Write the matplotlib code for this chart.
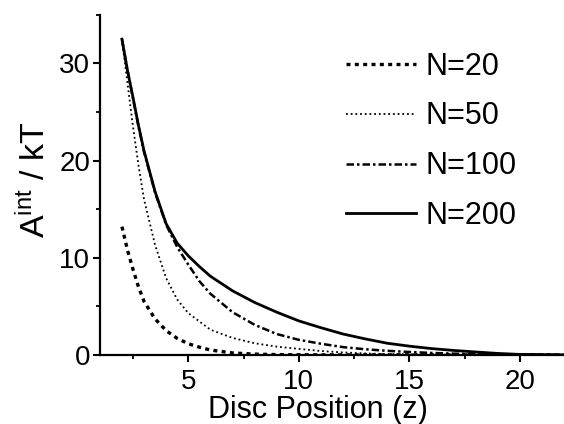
import matplotlib
matplotlib.use("Agg")
import matplotlib.pyplot as plt
from matplotlib.ticker import MultipleLocator

plt.rcParams['font.family'] = ['Liberation Sans', 'DejaVu Sans']
plt.rcParams['mathtext.default'] = 'regular'

labels = ["N=20", "N=50", "N=100", "N=200"]

x20 = [2, 2.25, 2.5, 2.75, 3, 3.5, 4, 4.5, 5, 5.5, 6, 7, 8, 9, 10, 12, 14, 17, 22]
y20 = [13.2, 10.8, 8.8, 7.0, 5.5, 3.7, 2.5, 1.7, 1.15, 0.8, 0.5, 0.2, 0.08, 0.03, 0.01, 0, 0, 0, 0]

x50 = [2, 2.25, 2.5, 2.75, 3, 3.5, 4, 4.5, 5, 6, 7, 8, 9, 10, 11, 12, 13, 14, 16, 18, 22]
y50 = [32.5, 28.0, 23.5, 19.5, 16.0, 11.3, 7.9, 5.7, 4.3, 2.6, 1.75, 1.2, 0.85, 0.62, 0.4, 0.25,
       0.15, 0.08, 0.03, 0.01, 0]

x100 = [2, 2.25, 2.5, 2.75, 3, 3.5, 4, 4.5, 5, 5.5, 6, 7, 8, 9, 10, 11, 12, 13, 14, 15, 16, 17, 18,
        20, 22]
y100 = [32.5, 29.3, 26.4, 23.5, 20.9, 16.7, 13.4, 11.1, 9.3, 7.6, 6.3, 4.4, 3.1, 2.15, 1.55, 1.15,
        0.8, 0.58, 0.42, 0.3, 0.2, 0.13, 0.08, 0.02, 0]

x200 = [2, 2.25, 2.5, 2.75, 3, 3.5, 4, 4.5, 5, 5.5, 6, 7, 8, 9, 10, 11, 12, 13, 14, 15, 16, 17, 18,
        19, 20, 22]
y200 = [32.5, 29.3, 26.5, 23.6, 21.0, 16.8, 13.5, 11.5, 10.2, 9.1, 8.1, 6.6, 5.4, 4.4, 3.5, 2.8,
        2.15, 1.65, 1.2, 0.9, 0.65, 0.46, 0.3, 0.15, 0.05, 0]

fig = plt.figure(figsize=(5.64, 4.24), dpi=100)
ax = fig.add_axes([0.177, 0.163, 0.823, 0.802])

ax.plot(x20, y20, color='black', lw=2.4, linestyle=(0, (1.2, 1.3)), label=labels[0])
ax.plot(x50, y50, color='black', lw=1.3, linestyle=(0, (1, 1.6)), label=labels[1])
ax.plot(x100, y100, color='black', lw=1.8, linestyle=(0, (3, 1.2, 1, 1.2)), label=labels[2])
ax.plot(x200, y200, color='black', lw=2.0, linestyle='-', label=labels[3])

ax.set_xlim(1, 22)
ax.set_ylim(0, 35)
ax.xaxis.set_major_locator(MultipleLocator(5))
ax.xaxis.set_minor_locator(MultipleLocator(2.5))
ax.yaxis.set_major_locator(MultipleLocator(10))
ax.yaxis.set_minor_locator(MultipleLocator(5))
ax.set_yticks([0, 10, 20, 30])

for s in ['top', 'right']:
    ax.spines[s].set_visible(False)
for s in ['left', 'bottom']:
    ax.spines[s].set_linewidth(1.6)

ax.tick_params(which='major', direction='out', length=5, width=1.5, labelsize=20, pad=2)
ax.tick_params(axis='x', which='major', pad=5)
ax.tick_params(which='minor', direction='out', length=3, width=1.3)

ax.set_xlabel('Disc Position (z)', fontsize=22)
ax.set_ylabel(r'A$^{int}$ / kT', fontsize=24.5)
ax.xaxis.set_label_coords(0.47, -0.118)
ax.yaxis.set_label_coords(-0.103, 0.515)

leg = ax.legend(loc='upper right', bbox_to_anchor=(0.924, 0.928), frameon=False, fontsize=22,
                handlelength=2.3, handletextpad=0.3, labelspacing=0.65, borderaxespad=0)

fig.savefig('out.png', dpi=100)
